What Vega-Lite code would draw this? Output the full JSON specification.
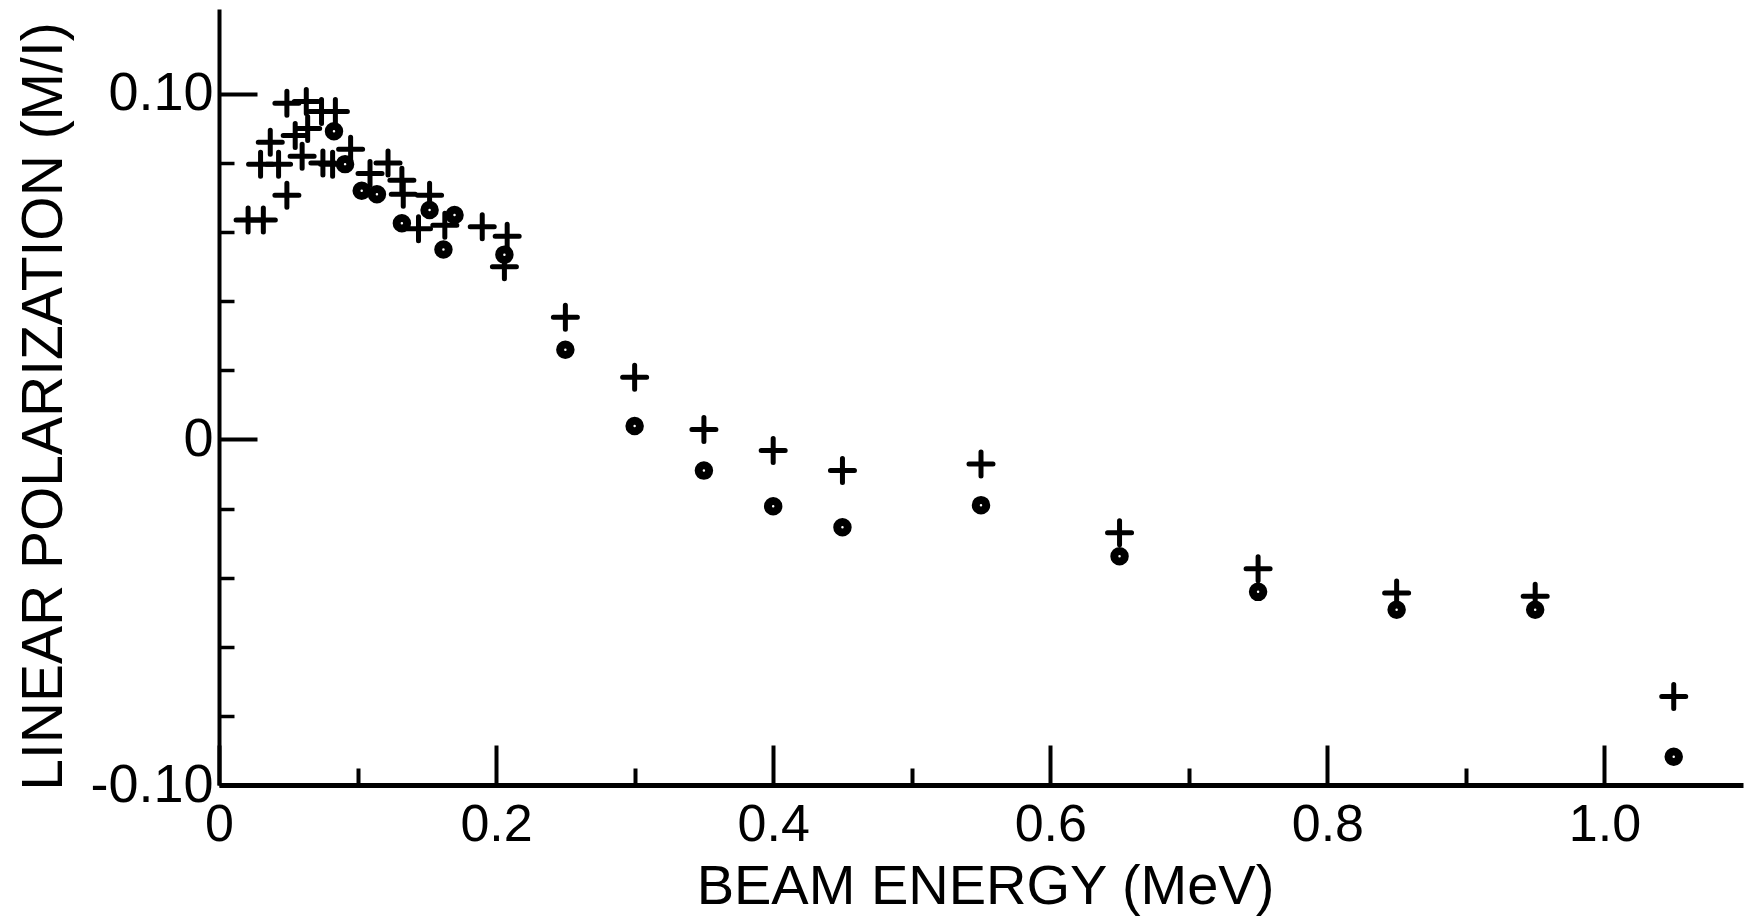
{
  "$schema": "https://vega.github.io/schema/vega-lite/v6.json",
  "width": 1524,
  "height": 776,
  "autosize": {"type": "none"},
  "padding": {"left": 219, "top": 9, "right": 3, "bottom": 132},
  "background": "white",
  "config": {
    "view": {"stroke": null},
    "axis": {
      "grid": false,
      "labelFont": "Liberation Sans",
      "titleFont": "Liberation Sans",
      "labelColor": "black",
      "titleColor": "black",
      "domainColor": "black",
      "tickColor": "black",
      "titleFontWeight": "normal"
    }
  },
  "data": {
    "values": [
      {"energy": 0.021, "pol": 0.0635, "series": "plus"},
      {"energy": 0.032, "pol": 0.0635, "series": "plus"},
      {"energy": 0.049, "pol": 0.0707, "series": "plus"},
      {"energy": 0.030, "pol": 0.0797, "series": "plus"},
      {"energy": 0.043, "pol": 0.0797, "series": "plus"},
      {"energy": 0.037, "pol": 0.086, "series": "plus"},
      {"energy": 0.049, "pol": 0.0973, "series": "plus"},
      {"energy": 0.063, "pol": 0.0978, "series": "plus"},
      {"energy": 0.074, "pol": 0.0949, "series": "plus"},
      {"energy": 0.084, "pol": 0.0949, "series": "plus"},
      {"energy": 0.064, "pol": 0.090, "series": "plus"},
      {"energy": 0.055, "pol": 0.088, "series": "plus"},
      {"energy": 0.060, "pol": 0.082, "series": "plus"},
      {"energy": 0.075, "pol": 0.080, "series": "plus"},
      {"energy": 0.082, "pol": 0.0797, "series": "plus"},
      {"energy": 0.095, "pol": 0.084, "series": "plus"},
      {"energy": 0.109, "pol": 0.077, "series": "plus"},
      {"energy": 0.122, "pol": 0.080, "series": "plus"},
      {"energy": 0.132, "pol": 0.075, "series": "plus"},
      {"energy": 0.133, "pol": 0.071, "series": "plus"},
      {"energy": 0.152, "pol": 0.0707, "series": "plus"},
      {"energy": 0.144, "pol": 0.061, "series": "plus"},
      {"energy": 0.163, "pol": 0.062, "series": "plus"},
      {"energy": 0.190, "pol": 0.0616, "series": "plus"},
      {"energy": 0.208, "pol": 0.0588, "series": "plus"},
      {"energy": 0.206, "pol": 0.050, "series": "plus"},
      {"energy": 0.25, "pol": 0.0354, "series": "plus"},
      {"energy": 0.30, "pol": 0.018, "series": "plus"},
      {"energy": 0.35, "pol": 0.0029, "series": "plus"},
      {"energy": 0.40, "pol": -0.0032, "series": "plus"},
      {"energy": 0.45, "pol": -0.009, "series": "plus"},
      {"energy": 0.55, "pol": -0.0071, "series": "plus"},
      {"energy": 0.65, "pol": -0.027, "series": "plus"},
      {"energy": 0.75, "pol": -0.0374, "series": "plus"},
      {"energy": 0.85, "pol": -0.0444, "series": "plus"},
      {"energy": 0.95, "pol": -0.0454, "series": "plus"},
      {"energy": 1.05, "pol": -0.0744, "series": "plus"},
      {"energy": 0.083, "pol": 0.0892, "series": "circle"},
      {"energy": 0.091, "pol": 0.0797, "series": "circle"},
      {"energy": 0.103, "pol": 0.072, "series": "circle"},
      {"energy": 0.114, "pol": 0.071, "series": "circle"},
      {"energy": 0.132, "pol": 0.0626, "series": "circle"},
      {"energy": 0.152, "pol": 0.0664, "series": "circle"},
      {"energy": 0.170, "pol": 0.065, "series": "circle"},
      {"energy": 0.162, "pol": 0.055, "series": "circle"},
      {"energy": 0.206, "pol": 0.0535, "series": "circle"},
      {"energy": 0.25, "pol": 0.026, "series": "circle"},
      {"energy": 0.30, "pol": 0.0039, "series": "circle"},
      {"energy": 0.35, "pol": -0.009, "series": "circle"},
      {"energy": 0.40, "pol": -0.0193, "series": "circle"},
      {"energy": 0.45, "pol": -0.0254, "series": "circle"},
      {"energy": 0.55, "pol": -0.019, "series": "circle"},
      {"energy": 0.65, "pol": -0.0338, "series": "circle"},
      {"energy": 0.75, "pol": -0.0441, "series": "circle"},
      {"energy": 0.85, "pol": -0.0493, "series": "circle"},
      {"energy": 0.95, "pol": -0.0493, "series": "circle"},
      {"energy": 1.05, "pol": -0.0918, "series": "circle"}
    ]
  },
  "layer": [
    {
      "transform": [{"filter": "datum.series === 'plus'"}],
      "mark": {
        "type": "point",
        "shape": "M-1,0L1,0M0,-1L0,1",
        "size": 576,
        "filled": false,
        "stroke": "black",
        "strokeWidth": 5,
        "strokeCap": "round",
        "opacity": 1
      },
      "encoding": {
        "x": {
          "field": "energy",
          "type": "quantitative",
          "scale": {"domain": [0, 1.1], "nice": false, "zero": false},
          "axis": {
            "orient": "bottom",
            "values": [0, 0.2, 0.4, 0.6, 0.8, 1.0],
            "labelExpr": "datum.value === 0 ? '0' : format(datum.value, '.1f')",
            "tickSize": -40,
            "tickWidth": 4,
            "domainWidth": 5,
            "labelFontSize": 52,
            "labelPadding": 95,
            "labelBaseline": "alphabetic",
            "labelFlush": false,
            "labelOverlap": false,
            "title": "BEAM ENERGY (MeV)",
            "titleFontSize": 56,
            "titleX": 766,
            "titleY": 118,
            "titleBaseline": "alphabetic",
            "titleAlign": "center"
          }
        },
        "y": {
          "field": "pol",
          "type": "quantitative",
          "scale": {"domain": [-0.1, 0.1246], "nice": false, "zero": false},
          "axis": {
            "orient": "left",
            "values": [-0.1, 0, 0.1],
            "labelExpr": "datum.value === 0 ? '0' : replace(format(datum.value, '.2f'), '\u2212', '-')",
            "tickSize": -38,
            "tickWidth": 4,
            "domainWidth": 4,
            "labelFontSize": 54,
            "labelPadding": 44,
            "labelFlush": false,
            "labelOverlap": false,
            "title": "LINEAR POLARIZATION (M/I)",
            "titleFontSize": 57,
            "titleX": -158,
            "titleY": 397,
            "titleAngle": -90,
            "titleBaseline": "alphabetic",
            "titleAlign": "center"
          }
        }
      }
    },
    {
      "transform": [{"filter": "datum.series === 'circle'"}],
      "mark": {
        "type": "point",
        "shape": "circle",
        "size": 110,
        "filled": false,
        "fill": "white",
        "stroke": "black",
        "strokeWidth": 8,
        "opacity": 1
      },
      "encoding": {
        "x": {
          "field": "energy",
          "type": "quantitative",
          "axis": {
            "orient": "bottom",
            "values": [0.1, 0.3, 0.5, 0.7, 0.9],
            "tickSize": -17,
            "tickWidth": 4,
            "labels": false,
            "domain": false,
            "title": null
          }
        },
        "y": {
          "field": "pol",
          "type": "quantitative",
          "axis": {
            "orient": "left",
            "values": [-0.08, -0.06, -0.04, -0.02, 0.02, 0.04, 0.06, 0.08],
            "tickSize": -15,
            "tickWidth": 3.5,
            "labels": false,
            "domain": false,
            "title": null
          }
        }
      }
    }
  ],
  "resolve": {"axis": {"x": "independent", "y": "independent"}}
}
